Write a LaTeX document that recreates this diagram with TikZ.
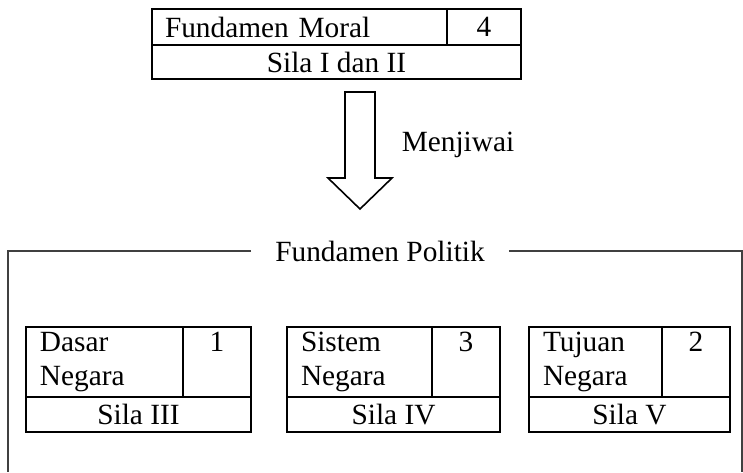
\documentclass[tikz,border=0pt]{standalone}
\usepackage{fontspec}
\setmainfont{Liberation Serif}
\usetikzlibrary{positioning}

\begin{document}
\begin{tikzpicture}[x=0.75pt, y=-0.75pt, font=\fontsize{22}{25}\selectfont,
  cell/.style={draw, line width=0.9pt, inner sep=0pt, outer sep=0pt, anchor=north west},
  frameline/.style={draw=black!75, line width=0.8pt}]
  \useasboundingbox (0,0) rectangle (743,472);

  % Fundamen Moral
  \node[cell, minimum width=295*0.75pt, minimum height=36*0.75pt, text width=269*0.75pt, align=left] (moral) at (152,9) {Fundamen Moral};
  \node[cell, minimum width=74*0.75pt, minimum height=36*0.75pt] (moralNo) at (moral.north east) {4};
  \node[cell, minimum width=369*0.75pt, minimum height=34*0.75pt] (moralSila) at (moral.south west) {Sila I dan II};

  % arrow
  \coordinate (tail) at (360,92);
  \draw[line width=1.2pt, shift={(tail)}] (-15,0) -- (-15,86) -- (-32,86) -- (0,117) -- (32,86) -- (15,86) -- (15,0) -- cycle;
  \node (menjiwai) at (458,145) {Menjiwai};

  % Fundamen Politik frame
  \node[inner xsep=24*0.75pt, inner ysep=0pt] (politik) at (380,251) {Fundamen Politik};
  \coordinate (frameL) at (8,472);
  \coordinate (frameR) at (742,472);
  \draw[frameline] (politik.west) -- (politik.west -| frameL) -- (frameL);
  \draw[frameline] (politik.east) -- (politik.east -| frameR) -- (frameR);

  % Sila III
  \node[cell, minimum width=157*0.75pt, minimum height=70*0.75pt, text width=129*0.75pt, align=left] (dasar) at (26,327) {Dasar\\Negara};
  \node[cell, minimum width=68*0.75pt, minimum height=70*0.75pt, align=center] (dasarNo) at (dasar.north east) {1\\\vphantom{g}};
  \node[cell, minimum width=225*0.75pt, minimum height=35*0.75pt] (dasarSila) at (dasar.south west) {Sila III};

  % Sila IV
  \node[cell, minimum width=145*0.75pt, minimum height=70*0.75pt, text width=117*0.75pt, align=left] (sistem) at (287,327) {Sistem\\Negara};
  \node[cell, minimum width=68*0.75pt, minimum height=70*0.75pt, align=center] (sistemNo) at (sistem.north east) {3\\\vphantom{g}};
  \node[cell, minimum width=213*0.75pt, minimum height=35*0.75pt] (sistemSila) at (sistem.south west) {Sila IV};

  % Sila V
  \node[cell, minimum width=133*0.75pt, minimum height=70*0.75pt, text width=105*0.75pt, align=left] (tujuan) at (529,327) {Tujuan\\Negara};
  \node[cell, minimum width=68*0.75pt, minimum height=70*0.75pt, align=center] (tujuanNo) at (tujuan.north east) {2\\\vphantom{g}};
  \node[cell, minimum width=201*0.75pt, minimum height=35*0.75pt] (tujuanSila) at (tujuan.south west) {Sila V};
\end{tikzpicture}
\end{document}
